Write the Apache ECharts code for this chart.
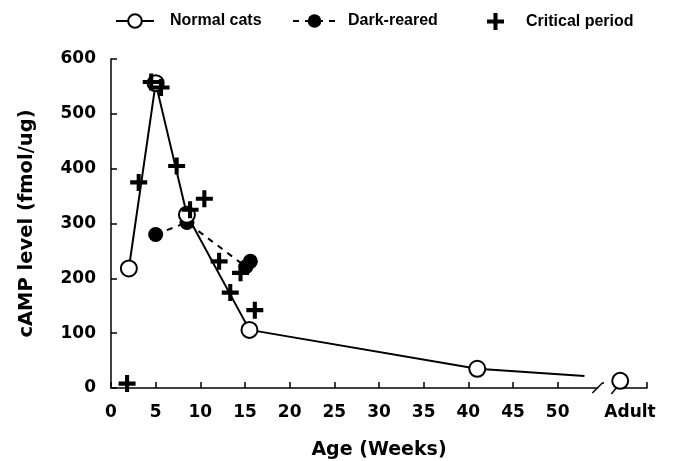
<!DOCTYPE html>
<html><head><meta charset="utf-8">
<script src="https://cdn.jsdelivr.net/npm/echarts@6/dist/echarts.min.js"></script>
<style>html,body{margin:0;padding:0;background:#fff}#c{width:674px;height:461px}</style>
</head><body><div id="c"></div>
<script>
// ---- data ----
const normalAge = [2, 5, 8.5, 15.5, 41];
const normalCamp = [218, 556, 316, 106, 35];
const normalTrailAge = 53;      // line continues toward the axis break
const normalTrailCamp = 22;
const adultAge = 57;            // "Adult" position after the axis break
const adultCamp = 13;
const darkAge = [5, 8.5, 15.1, 15.6];
const darkCamp = [280, 302, 221, 231];
const critAge = [1.8, 3.1, 4.5, 5.6, 7.35, 8.85, 10.45, 12.1, 13.35, 14.5, 16.1];
const critCamp = [8, 375, 558, 548, 405, 325, 345, 231, 174, 210, 142];
const xTickLabels = ['0','5','10','15','20','25','30','35','40','45','50'];
const adultLabel = 'Adult';

const AX_FONT = 'DejaVu Sans';
const plusPath = 'path://M3.8,0H6.2V3.8H10V6.2H6.2V10H3.8V6.2H0V3.8H3.8Z';

const normalData = normalAge.map((a, i) => [a, normalCamp[i]]);
normalData.push({ value: [normalTrailAge, normalTrailCamp], symbol: 'none' });
normalData.push([ (normalTrailAge + adultAge) / 2, '-' ]);
normalData.push([adultAge, adultCamp]);

const chart = echarts.init(document.getElementById('c'), null, { renderer: 'canvas' });
const legendText = (pad) => ({
  fontFamily: 'Liberation Sans', fontWeight: 'bold', fontSize: 16, color: '#000',
  padding: [0, 0, 0, pad]
});
const option = {
  animation: false,
  backgroundColor: '#fff',
  legend: [
    { data: ['Normal cats'], left: 110, top: 8, itemWidth: 38, itemHeight: 17, textStyle: legendText(11), selectedMode: false },
    { data: ['Dark-reared'], left: 287, top: 8, itemWidth: 43, itemHeight: 17, textStyle: legendText(7), selectedMode: false },
    { data: ['Critical period'], left: 482, top: 8, itemWidth: 17, itemHeight: 17, textStyle: legendText(17), selectedMode: false }
  ],
  grid: { left: 111, right: 27, top: 59, bottom: 73, containLabel: false, outerBoundsMode: 'none' },
  xAxis: {
    type: 'value', min: 0, max: 60, interval: 5,
    name: 'Age (Weeks)', nameLocation: 'middle', nameGap: 53,
    nameTextStyle: { fontFamily: AX_FONT, fontWeight: 'bold', fontSize: 19, color: '#000' },
    axisLine: { lineStyle: { color: '#000', width: 1.5 } },
    axisTick: { inside: true, length: 6, lineStyle: { color: '#000', width: 1.5 } },
    splitLine: { show: false },
    axisLabel: {
      margin: 16, color: '#000', fontFamily: AX_FONT, fontWeight: 'bold', fontSize: 17,
      showMaxLabel: true, showMinLabel: true,
      formatter: (v) => {
        const i = Math.round(v / 5);
        if (i < xTickLabels.length) return xTickLabels[i];
        if (v === 60) return '{a|' + adultLabel + '}';
        return '';
      },
      rich: { a: { fontFamily: AX_FONT, fontWeight: 'bold', fontSize: 17, color: '#000', padding: [0, 34, 0, 0] } }
    }
  },
  yAxis: {
    type: 'value', min: 0, max: 600, interval: 100,
    name: 'cAMP level (fmol/ug)', nameLocation: 'middle', nameGap: 74,
    nameTextStyle: { fontFamily: AX_FONT, fontWeight: 'bold', fontSize: 19.5, color: '#000' },
    axisLine: { show: true, lineStyle: { color: '#000', width: 1.5 } },
    axisTick: { show: true, inside: true, length: 6, lineStyle: { color: '#000', width: 1.5 } },
    splitLine: { show: false },
    axisLabel: { margin: 15, color: '#000', fontFamily: AX_FONT, fontWeight: 'bold', fontSize: 17, padding: [8, 0, 0, 0] }
  },
  series: [
    {
      name: 'Normal cats', type: 'line', data: normalData, z: 4,
      symbol: 'circle', symbolSize: 16, showAllSymbol: true,
      lineStyle: { color: '#000', width: 2 },
      itemStyle: { color: '#fff', borderColor: '#000', borderWidth: 2 }
    },
    {
      name: 'Dark-reared', type: 'line', data: darkAge.map((a, i) => [a, darkCamp[i]]), z: 3,
      symbol: 'circle', symbolSize: 15,
      lineStyle: { color: '#000', width: 2, type: [6, 6] },
      itemStyle: { color: '#000', borderColor: '#000', borderWidth: 0 }
    },
    {
      name: 'Critical period', type: 'scatter', data: critAge.map((a, i) => [a, critCamp[i]]), z: 5,
      symbol: plusPath, symbolSize: 17,
      itemStyle: { color: '#000', opacity: 1 }
    }
  ]
};
chart.setOption(option);

// axis break marks
const bx = chart.convertToPixel({ xAxisIndex: 0 }, 55);
const by = chart.convertToPixel({ yAxisIndex: 0 }, 0);
chart.setOption({
  graphic: [
    { type: 'rect', z: 1, shape: { x: bx - 4, y: by - 4, width: 19, height: 8 }, style: { fill: '#fff' } },
    { type: 'line', z: 1, shape: { x1: bx - 10, y1: by + 5, x2: bx, y2: by - 5 }, style: { stroke: '#000', lineWidth: 1.5 } },
    { type: 'line', z: 1, shape: { x1: bx + 9, y1: by + 6, x2: bx + 18, y2: by - 5 }, style: { stroke: '#000', lineWidth: 1.5 } }
  ]
});
</script></body></html>
